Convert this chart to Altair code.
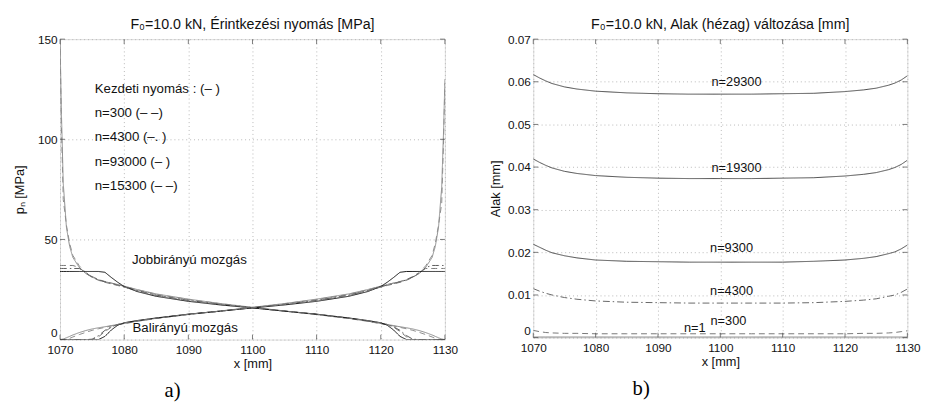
import altair as alt
import pandas as pd

# ---------------- panel a) : contact pressure ----------------
XA = [1070, 1070.2, 1070.5, 1071, 1071.5, 1072, 1073, 1074, 1075, 1076, 1077, 1078, 1079,
      1080, 1082, 1085, 1090, 1095, 1100, 1105, 1110, 1115, 1118, 1120, 1121, 1122, 1123,
      1124, 1125, 1126, 1127, 1128, 1128.5, 1129, 1129.5, 1129.8, 1130]

# rightward movement (Jobbirányú mozgás)
R_INIT = [150, 115, 78, 56, 46.5, 41, 36, 33, 31.2, 29.8, 28.9, 28.2, 27.5, 26.7, 25.0, 22.8,
          20.2, 18.0, 16.1, 14.3, 12.6, 10.6, 9.2, 8.0, 7.5, 7.0, 6.4, 5.9, 5.3, 4.5, 3.5, 2.3,
          1.6, 0.9, 0.3, 0.1, 0]
R_300 = [150, 108, 70, 57, 48, 42, 36.8, 33.5, 31.5, 30.0, 29.0, 28.2, 27.4, 26.6, 24.9, 22.6,
         20.0, 17.9, 16.0, 14.2, 12.5, 10.5, 9.1, 7.9, 7.4, 6.8, 6.1, 5.4, 4.6, 3.6, 2.5, 1.3,
         0.6, 0.1, 0, 0, 0]
R_4300 = [35.5, 35.5, 35.5, 35.5, 35.5, 35.5, 35.5, 33.3, 31.3, 29.8, 28.8, 28.0, 27.2, 26.3,
          24.5, 22.2, 19.6, 17.6, 15.9, 14.2, 12.6, 10.7, 9.3, 8.2, 7.5, 6.4, 4.6, 2.0, 0.2, 0,
          0, 0, 0, 0, 0, 0, 0]
R_93000 = [34, 34, 34, 34, 34, 34, 34, 34, 34, 34, 33.6, 31.0, 28.6, 26.5, 24.0, 21.6, 19.1,
           17.3, 15.8, 14.2, 12.7, 10.8, 9.5, 8.4, 7.2, 4.8, 1.6, 0, 0, 0, 0, 0, 0, 0, 0, 0, 0]
R_15300 = [37, 37, 37, 37, 37, 37, 36.0, 33.2, 31.1, 29.6, 28.6, 27.8, 27.0, 26.2, 24.4, 22.0,
           19.4, 17.5, 15.9, 14.2, 12.6, 10.7, 9.4, 8.3, 7.6, 6.2, 4.0, 1.4, 0, 0, 0, 0, 0, 0,
           0, 0, 0]

# leftward movement (Balirányú mozgás)
L_INIT = [0, 0.1, 0.3, 0.9, 1.6, 2.3, 3.5, 4.5, 5.3, 5.9, 6.4, 7.0, 7.5, 8.0, 9.2, 10.6, 12.6,
          14.3, 16.1, 18.0, 20.2, 22.8, 25.0, 26.7, 27.5, 28.2, 28.9, 29.8, 31.2, 33, 36, 41,
          46.5, 56, 76, 105, 130]
L_300 = [0, 0, 0, 0.1, 0.6, 1.3, 2.5, 3.6, 4.6, 5.4, 6.1, 6.8, 7.4, 7.9, 9.1, 10.5, 12.5, 14.2,
         16.0, 17.9, 20.0, 22.6, 24.9, 26.6, 27.4, 28.2, 29.0, 30.0, 31.5, 33.5, 36.8, 42, 48,
         57, 68, 100, 128]
L_4300 = [0, 0, 0, 0, 0, 0, 0, 0, 0.2, 2.0, 4.6, 6.4, 7.5, 8.2, 9.3, 10.7, 12.6, 14.2, 15.9,
          17.6, 19.6, 22.2, 24.5, 26.3, 27.2, 28.0, 28.8, 29.8, 31.3, 33.2, 36.0, 37, 37, 37,
          37, 37, 37]
L_93000 = [0, 0, 0, 0, 0, 0, 0, 0, 0, 0, 1.6, 4.8, 7.2, 8.4, 9.5, 10.8, 12.7, 14.2, 15.8, 17.3,
           19.1, 21.6, 24.0, 26.5, 28.6, 31.0, 33.6, 34, 34, 34, 34, 34, 34, 34, 34, 34, 34]
L_15300 = [0, 0, 0, 0, 0, 0, 0, 0, 0, 1.4, 4.0, 6.2, 7.6, 8.3, 9.4, 10.7, 12.6, 14.2, 15.9,
           17.5, 19.4, 22.0, 24.4, 26.2, 27.0, 27.8, 28.6, 29.6, 31.1, 33.2, 35.5, 35.5, 35.5,
           35.5, 35.5, 35.5, 35.5]

A_KINDS = ["init", "n300", "n4300", "n93000", "n15300"]
A_COLORS = ["#8c8c8c", "#8c8c8c", "#5a5a5a", "#111111", "#777777"]
A_DASHES = [[1, 0], [6, 4], [7, 3, 1.5, 3], [1, 0], [6, 4]]

A_NOTE_TEXT = ["Kezdeti nyomás : (– )", "n=300 (– –)", "n=4300 (–. )", "n=93000 (– )",
               "n=15300 (– –)", "Jobbirányú mozgás", "Balirányú mozgás"]
A_NOTE_X = [1075.4, 1075.4, 1075.4, 1075.4, 1075.4, 1081.2, 1081.3]
A_NOTE_Y = [125, 113, 101, 88.5, 76.5, 39.7, 5.9]

# ---------------- panel b) : shape (gap) change ----------------
XB = [1070, 1071, 1072, 1073, 1075, 1077, 1080, 1085, 1090, 1095, 1100, 1105, 1110, 1115,
      1120, 1123, 1125, 1127, 1128, 1129, 1130]
B_29300 = [.0617, .0609, .0602, .0596, .0588, .0583, .0578, .0574, .0572, .0571, .0571, .0571,
           .0572, .0573, .0577, .0581, .0585, .0592, .0597, .0604, .0614]
B_19300 = [.0419, .0411, .0404, .0398, .0390, .0385, .0380, .0376, .0374, .0373, .0373, .0373,
           .0374, .0375, .0379, .0383, .0387, .0394, .0399, .0406, .0416]
B_9300 = [.0219, .0212, .0205, .0199, .0192, .0187, .0182, .0179, .0178, .0177, .0177, .0177,
          .0177, .0179, .0182, .0186, .0190, .0197, .0201, .0208, .0217]
B_4300 = [.0115, .0109, .0104, .0100, .0094, .0090, .0086, .0083, .0082, .0081, .0081, .0081,
          .0081, .0082, .0085, .0088, .0091, .0097, .0100, .0106, .0114]
B_300 = [.0017, .0014, .0012, .0011, .0010, .0010, .0009, .0009, .0009, .0009, .0009, .0009,
         .0009, .0009, .0009, .0010, .0010, .0011, .0012, .0014, .0016]
B_1 = [.0001, .0001, .0001, .0001, .0001, .0001, .0001, .0001, .0001, .0001, .0001, .0001,
       .0001, .0001, .0001, .0001, .0001, .0001, .0001, .0001, .0001]

B_KINDS = ["m29300", "m19300", "m9300", "m4300", "m300", "m1"]
B_COLORS = ["#4a4a4a", "#4a4a4a", "#4a4a4a", "#666666", "#777777", "#4a4a4a"]
B_DASHES = [[1, 0], [1, 0], [1, 0], [7, 3, 1.5, 3], [6, 4], [1, 0]]

B_NOTE_TEXT = ["n=29300", "n=19300", "n=9300", "n=4300", "n=300", "n=1"]
B_NOTE_X = [1102.6, 1102.6, 1101.8, 1101.8, 1101.3, 1095.9]
B_NOTE_Y = [0.0590, 0.0389, 0.0200, 0.0101, 0.0030, 0.0014]

X_TICKS = [1070, 1080, 1090, 1100, 1110, 1120, 1130]
A_Y_TICKS = [0, 50, 100, 150]
B_Y_TICKS = [0, 0.01, 0.02, 0.03, 0.04, 0.05, 0.06, 0.07]

FONT = "Liberation Sans"
TICK_COLOR = "#444"

# ---------------- build tables ----------------
rows_a = []
for direction, arrays in (("R", [R_INIT, R_300, R_4300, R_93000, R_15300]),
                          ("L", [L_INIT, L_300, L_4300, L_93000, L_15300])):
    for kind, ys in zip(A_KINDS, arrays):
        for i, (x, y) in enumerate(zip(XA, ys)):
            rows_a.append({"x": x, "y": y, "kindA": kind, "series": direction + kind, "i": i})
df_a = pd.DataFrame(rows_a)

rows_b = []
for kind, ys in zip(B_KINDS, [B_29300, B_19300, B_9300, B_4300, B_300, B_1]):
    for i, (x, y) in enumerate(zip(XB, ys)):
        rows_b.append({"x": x, "y": y, "kindB": kind, "i": i})
df_b = pd.DataFrame(rows_b)

notes_a = pd.DataFrame({"x": A_NOTE_X, "y": A_NOTE_Y, "t": A_NOTE_TEXT})
notes_b = pd.DataFrame({"x": B_NOTE_X, "y": B_NOTE_Y, "t": B_NOTE_TEXT})

AX_COMMON = dict(labelFont=FONT, titleFont=FONT, labelFontSize=12, titleFontSize=13,
                 titleFontWeight="normal", labelColor="#111", titleColor="#111",
                 domain=False, ticks=False, grid=True, gridColor="#b8b8b8",
                 gridDash=[1, 3], gridWidth=1, labelFlush=False)

Y_BASELINE = alt.condition("datum.value == 0", alt.value("bottom"), alt.value("middle"))


def x_axis():
    return alt.Axis(values=X_TICKS, format="d", title="x [mm]", titlePadding=2,
                    labelPadding=5, **AX_COMMON)


def inner_ticks(xs, ys, x_ticks, y_ticks, w, h):
    """MATLAB-style inward ticks on all four sides of the frame."""
    tx = pd.DataFrame({"x": x_ticks})
    ty = pd.DataFrame({"y": y_ticks})
    layers = []
    for ypix in (h - 2.5, 2.5):
        layers.append(alt.Chart(tx).mark_tick(orient="vertical", size=5, thickness=1,
                                              color=TICK_COLOR).encode(
            x=alt.X("x:Q", scale=xs), y=alt.value(ypix)))
    for xpix in (2.5, w - 2.5):
        layers.append(alt.Chart(ty).mark_tick(orient="horizontal", size=5, thickness=1,
                                              color=TICK_COLOR).encode(
            y=alt.Y("y:Q", scale=ys), x=alt.value(xpix)))
    return layers


W_A, H_A = 392, 306
W_B, H_B = 381, 304

xs_a = alt.Scale(domain=[1070, 1130], nice=False, zero=False)
ys_a = alt.Scale(domain=[0, 150], nice=False)

lines_a = alt.Chart(df_a).mark_line(strokeWidth=1, clip=True).encode(
    x=alt.X("x:Q", scale=xs_a, axis=x_axis()),
    y=alt.Y("y:Q", scale=ys_a,
            axis=alt.Axis(values=A_Y_TICKS, title="pₙ [MPa]", titlePadding=11, labelPadding=3,
                          labelBaseline=Y_BASELINE, **AX_COMMON)),
    color=alt.Color("kindA:N", scale=alt.Scale(domain=A_KINDS, range=A_COLORS), legend=None),
    strokeDash=alt.StrokeDash("kindA:N", scale=alt.Scale(domain=A_KINDS, range=A_DASHES),
                              legend=None),
    detail="series:N",
    order="i:Q",
)
text_a = alt.Chart(notes_a).mark_text(align="left", baseline="middle", font=FONT,
                                      fontSize=13.5, color="#111").encode(
    x=alt.X("x:Q", scale=xs_a), y=alt.Y("y:Q", scale=ys_a), text="t:N")

panel_a = alt.layer(lines_a, text_a, *inner_ticks(xs_a, ys_a, X_TICKS, A_Y_TICKS, W_A, H_A)
                    ).properties(
    width=W_A, height=H_A,
    title=alt.TitleParams("F₀=10.0 kN, Érintkezési nyomás [MPa]", fontSize=14.5,
                          fontWeight="normal", font=FONT, offset=1, color="#111"))

xs_b = alt.Scale(domain=[1070, 1130], nice=False, zero=False)
ys_b = alt.Scale(domain=[0, 0.07], nice=False)

lines_b = alt.Chart(df_b).mark_line(strokeWidth=1, clip=True).encode(
    x=alt.X("x:Q", scale=xs_b, axis=x_axis()),
    y=alt.Y("y:Q", scale=ys_b,
            axis=alt.Axis(values=B_Y_TICKS, title="Alak [mm]", titlePadding=5, labelPadding=3,
                          labelBaseline=Y_BASELINE,
                          labelExpr="datum.value == 0 ? '0' : format(datum.value, '.2f')",
                          **AX_COMMON)),
    color=alt.Color("kindB:N", scale=alt.Scale(domain=B_KINDS, range=B_COLORS), legend=None),
    strokeDash=alt.StrokeDash("kindB:N", scale=alt.Scale(domain=B_KINDS, range=B_DASHES),
                              legend=None),
    detail="kindB:N",
    order="i:Q",
)
text_b = alt.Chart(notes_b).mark_text(align="center", baseline="bottom", font=FONT,
                                      fontSize=13, color="#111", dy=3).encode(
    x=alt.X("x:Q", scale=xs_b), y=alt.Y("y:Q", scale=ys_b), text="t:N")

panel_b = alt.layer(lines_b, text_b, *inner_ticks(xs_b, ys_b, X_TICKS, B_Y_TICKS, W_B, H_B)
                    ).properties(
    width=W_B, height=H_B,
    title=alt.TitleParams("F₀=10.0 kN, Alak (hézag) változása [mm]", fontSize=14.5,
                          fontWeight="normal", font=FONT, offset=1, color="#111"))

cap = dict(orient="bottom", anchor="start", font="Liberation Serif", fontSize=21,
           fontWeight="normal", color="#000", offset=10)
col_a = alt.vconcat(panel_a).properties(title=alt.TitleParams("a)", dx=154, **cap))
col_b = alt.vconcat(panel_b).properties(title=alt.TitleParams("b)", dx=146, **cap))

chart = alt.hconcat(col_a, col_b, spacing=31).resolve_scale(
    color="independent", strokeDash="independent"
).configure_view(
    stroke="#555", strokeWidth=1
).configure(background="white")

chart.save("out.html", embed_options={"renderer": "svg", "actions": False})
